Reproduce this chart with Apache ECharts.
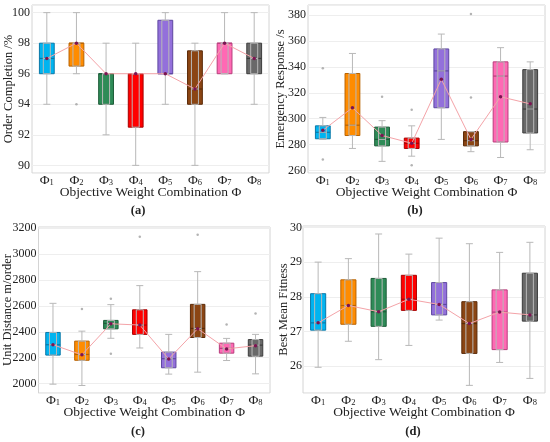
<!DOCTYPE html>
<html>
<head>
<meta charset="utf-8">
<script src="https://cdn.jsdelivr.net/npm/echarts@6/dist/echarts.min.js"></script>
<style>
  html, body { margin: 0; padding: 0; background: #fff; }
  #main { width: 550px; height: 442px; }
</style>
</head>
<body>
<div id="main"></div>
<script>
// categories
var cats = ['Φ1', 'Φ2', 'Φ3', 'Φ4', 'Φ5', 'Φ6', 'Φ7', 'Φ8'];
var boxColors = ['#00b4f0', '#ff8c00', '#2e8b57', '#ff0000', '#9370db', '#8b4513', '#ff69b4', '#696969'];
var edgeColors = ['#0a78a8', '#b86200', '#1d5c38', '#a80000', '#5e47a0', '#5a2a08', '#b83d7c', '#3c3c3c'];

// (a) order completion  [min, q1, median, q3, max]
var ocBox = [
  [94, 96, 97, 98, 100],
  [96, 96.5, 98, 98, 100],
  [92, 94, 96, 96, 98],
  [90, 92.5, 96, 96, 98],
  [94, 96, 96, 99.5, 100],
  [90, 94, 95, 97.5, 98],
  [96, 96, 98, 98, 100],
  [94, 96, 97, 98, 100]
];
var ocMean = [97, 98, 96, 96, 96, 95, 98, 97];
var ocOut = [[1, 94]];

// (b) emergency response
var erBox = [
  [284, 284.5, 289.5, 294.5, 301],
  [277, 287, 295, 335, 350.5],
  [267, 279, 284, 293.5, 298.5],
  [271, 277, 281, 285, 294.5],
  [284, 308.5, 337, 354, 365.5],
  [274.5, 279, 283, 290, 290],
  [270, 282, 333, 344, 355],
  [276, 289, 307.5, 338, 344]
];
var erMean = [291, 308.5, 287, 281, 330.5, 284, 317, 311.5];
var erOut = [[0, 339], [0, 268.5], [2, 317], [3, 307], [3, 264], [5, 381], [5, 316.5]];

// (c) unit distance
var udBox = [
  [1995, 2220, 2300, 2395, 2620],
  [1985, 2180, 2225, 2328, 2405],
  [2350, 2423, 2465, 2488, 2610],
  [2275, 2380, 2452, 2570, 2757],
  [2073, 2122, 2192, 2243, 2380],
  [2088, 2356, 2426, 2612, 2865],
  [2178, 2235, 2272, 2312, 2349],
  [2075, 2212, 2297, 2340, 2380]
];
var udMean = [2300, 2222, 2462, 2452, 2190, 2424, 2268, 2293];
var udOut = [[1, 2576], [2, 2655], [2, 2230], [3, 3135], [5, 3150], [6, 2457], [7, 2542]];

// (d) best mean fitness
var bfBox = [
  [25.97, 27.04, 27.25, 28.09, 29.0],
  [26.72, 27.21, 27.75, 28.49, 29.1],
  [26.19, 27.15, 27.57, 28.53, 29.81],
  [26.6, 27.61, 27.93, 28.62, 29.23],
  [27.33, 27.48, 27.78, 28.41, 29.69],
  [25.45, 26.37, 27.23, 27.86, 29.53],
  [26.11, 26.48, 27.56, 28.2, 29.28],
  [25.65, 27.3, 27.48, 28.68, 29.57]
];
var bfMean = [27.25, 27.75, 27.57, 27.93, 27.78, 27.23, 27.56, 27.48];
var bfOut = [];

var serif = 'Liberation Serif, Times New Roman, serif';

var panels = [
  { name: 'Order Completion /%', box: ocBox, mean: ocMean, out: ocOut, min: 89.5, max: 100.5, step: 2,
    gap: 16.5, labelGap: 2,
    grid: { left: 32, top: 5, width: 237, height: 168 }, tag: '(a)', tagPos: [138, 211] },
  { name: 'Emergency Response /s', box: erBox, mean: erMean, out: erOut, min: 258, max: 388, step: 20,
    gap: 21, labelGap: 2,
    grid: { left: 308, top: 5, width: 237, height: 168 }, tag: '(b)', tagPos: [415, 211] },
  { name: 'Unit Distance m/order', box: udBox, mean: udMean, out: udOut, min: 1927, max: 3210, step: 200,
    gap: 24.5, labelGap: 2,
    grid: { left: 37, top: 227, width: 233, height: 166 }, tag: '(c)', tagPos: [138, 432] },
  { name: 'Best Mean Fitness', box: bfBox, mean: bfMean, out: bfOut, min: 25.23, max: 30.04, step: 1,
    gap: 13, labelGap: 1,
    grid: { left: 303, top: 226, width: 242, height: 167 }, tag: '(d)', tagPos: [413, 432] }
];

var grids = [], xAxes = [], yAxes = [], series = [], graphics = [];

panels.forEach(function (p, k) {
  grids.push(Object.assign({ show: true, borderColor: '#d4d4d4', borderWidth: 1, backgroundColor: '#fff' }, p.grid));

  xAxes.push({
    type: 'category', gridIndex: k, data: cats,
    name: 'Objective Weight Combination Φ', nameLocation: 'middle', nameGap: 12, nameMoveOverlap: false,
    nameTextStyle: { fontFamily: serif, fontSize: 13.5, color: '#222' },
    axisLine: { show: false }, axisTick: { show: false },
    axisLabel: {
      interval: 0, margin: 1,
      formatter: function (v) { return '{m|Φ}{s|' + v.slice(1) + '}'; },
      rich: {
        m: { fontFamily: serif, fontSize: 13.5, color: '#222', lineHeight: 13 },
        s: { fontFamily: serif, fontSize: 8.5, color: '#222', verticalAlign: 'bottom', lineHeight: 10 }
      }
    }
  });

  yAxes.push({
    type: 'value', gridIndex: k, min: p.min, max: p.max,
    minInterval: p.step, maxInterval: p.step, splitNumber: 6,
    name: p.name, nameLocation: 'middle', nameGap: p.gap, nameRotate: 90, nameMoveOverlap: false,
    nameTextStyle: { fontFamily: serif, fontSize: 12.5, color: '#222' },
    axisLine: { show: false }, axisTick: { show: false },
    axisLabel: {
      fontFamily: serif, fontSize: 12, color: '#222', margin: p.labelGap,
      showMinLabel: false, showMaxLabel: false,
      formatter: function (v) { return String(v); }
    },
    splitLine: { lineStyle: { color: '#eeeeee', width: 1 } }
  });

  // whiskers
  series.push({
    type: 'boxplot', xAxisIndex: k, yAxisIndex: k, silent: true,
    boxWidth: [7, 7],
    itemStyle: { color: 'transparent', borderColor: '#b8b8b8', borderWidth: 1 },
    data: p.box
  });

  // coloured boxes with median
  series.push({
    type: 'custom', xAxisIndex: k, yAxisIndex: k, silent: true,
    data: p.box.map(function (b, i) { return [i, b[1], b[2], b[3]]; }),
    renderItem: function (params, api) {
      var i = api.value(0);
      var lo = api.coord([i, api.value(1)]);
      var md = api.coord([i, api.value(2)]);
      var hi = api.coord([i, api.value(3)]);
      var w = api.size([1, 0])[0] * 0.5;
      return {
        type: 'group',
        children: [
          { type: 'rect', shape: { x: lo[0] - w / 2, y: hi[1], width: w, height: Math.max(lo[1] - hi[1], 1) },
            style: { fill: boxColors[i], stroke: edgeColors[i], lineWidth: 1 } },
          { type: 'line', shape: { x1: md[0] - w / 2, y1: md[1], x2: md[0] + w / 2, y2: md[1] },
            style: { stroke: edgeColors[i], lineWidth: 1.2 } }
        ]
      };
    }
  });

  // outliers
  series.push({
    type: 'scatter', xAxisIndex: k, yAxisIndex: k, silent: true,
    symbolSize: 2.5, itemStyle: { color: '#a0a0a0' },
    data: p.out
  });

  // means
  series.push({
    type: 'line', xAxisIndex: k, yAxisIndex: k, silent: true,
    symbol: 'circle', symbolSize: 3.5,
    lineStyle: { color: '#f4a3a8', width: 1 },
    itemStyle: { color: '#7b1452', borderWidth: 0 },
    z: 5,
    data: p.mean
  });

  graphics.push({
    type: 'text', x: p.tagPos[0], y: p.tagPos[1],
    style: { text: p.tag, font: 'bold 12.5px ' + serif, fill: '#222', align: 'center', verticalAlign: 'middle' }
  });
});

var chart = echarts.init(document.getElementById('main'), null, { renderer: 'canvas' });
chart.setOption({
  backgroundColor: '#fff',
  animation: false,
  grid: grids,
  xAxis: xAxes,
  yAxis: yAxes,
  series: series,
  graphic: graphics
});
</script>
</body>
</html>
